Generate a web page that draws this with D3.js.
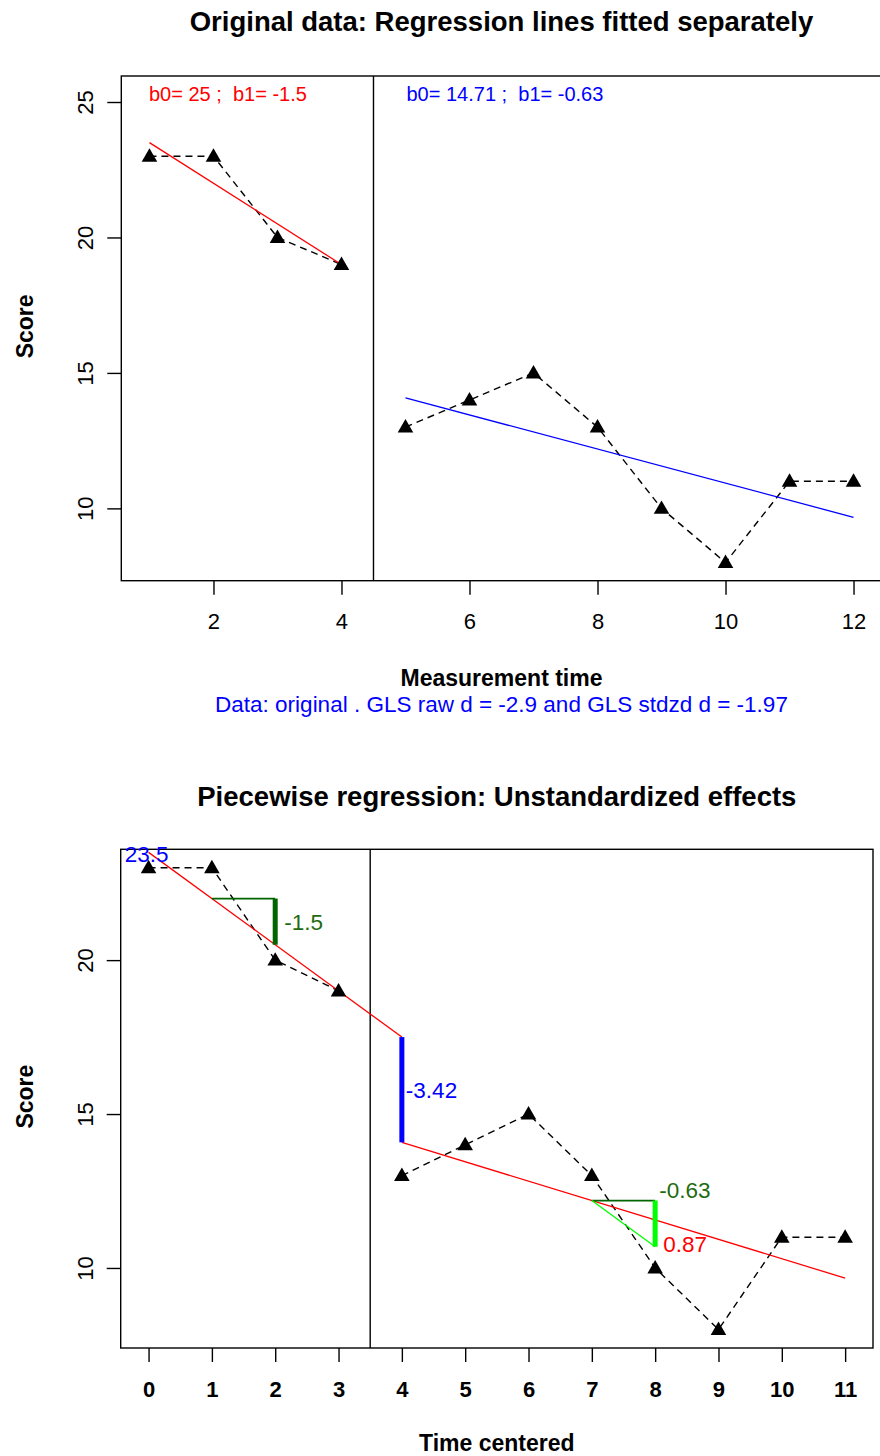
<!DOCTYPE html>
<html>
<head>
<meta charset="utf-8">
<script src="https://cdn.jsdelivr.net/npm/d3@7"></script>
<style>
  body { margin: 0; background: #fff; }
  svg { font-family: "Liberation Sans", Arial, sans-serif; }
  .axis text { fill: #000; }
</style>
</head>
<body>
<svg id="chart" width="880" height="1456"></svg>
<script>
// measurement times (original and centered) and observed scores
const timeOriginal = [1, 2, 3, 4, 5, 6, 7, 8, 9, 10, 11, 12];
const timeCentered = [0, 1, 2, 3, 4, 5, 6, 7, 8, 9, 10, 11];
const scores = [23, 23, 20, 19, 13, 14, 15, 13, 10, 8, 11, 11];
const phases = ['A', 'A', 'A', 'A', 'B', 'B', 'B', 'B', 'B', 'B', 'B', 'B'];

// separate fits (b0, b1) per phase, time counted within phase
const fitA = { b0: 25, b1: -1.5, offset: 0 };
const fitB = { b0: 14.71, b1: -0.63, offset: 4 };

// piecewise regression effects
const pwIntercept = 23.5;
const pwSlope = -1.5;
const pwLevel = -3.42;
const pwSlopeChange = 0.87;
const phaseChange = 4; // first centered time of phase B

const topXTicks = [2, 4, 6, 8, 10, 12];
const bottomXTicks = [0, 1, 2, 3, 4, 5, 6, 7, 8, 9, 10, 11];
const yTicks = [10, 15, 20, 25];

const svg = d3.select('#chart');
const tri = d3.symbol().type(d3.symbolTriangle).size(105);

function drawFrame(cfg) {
  const g = svg.append('g');
  // box
  g.append('rect')
    .attr('x', cfg.left).attr('y', cfg.top)
    .attr('width', cfg.right - cfg.left).attr('height', cfg.bottom - cfg.top)
    .attr('fill', 'none').attr('stroke', '#000').attr('stroke-width', 1.4);

  // only ticks inside the plotting range, as R does
  const yd = cfg.y.domain();
  const yt = yTicks.filter(v => v >= yd[0] && v <= yd[1]);

  const xAxis = d3.axisBottom(cfg.x).tickValues(cfg.xTicks).tickSize(14).tickPadding(19);
  const yAxis = d3.axisLeft(cfg.y).tickValues(yt).tickSize(14);

  const xg = g.append('g').attr('class', 'axis')
    .attr('transform', `translate(0,${cfg.bottom})`).call(xAxis);
  xg.select('.domain').remove();
  xg.selectAll('.tick line').attr('stroke', '#000').attr('stroke-width', 1.4);
  xg.selectAll('text').style('font-size', '22px')
    .style('font-weight', cfg.boldTicks ? 'bold' : 'normal');

  const yg = g.append('g').attr('class', 'axis')
    .attr('transform', `translate(${cfg.left},0)`).call(yAxis);
  yg.select('.domain').remove();
  yg.selectAll('.tick line').attr('stroke', '#000').attr('stroke-width', 1.4);
  yg.selectAll('text')
    .attr('transform', 'rotate(-90)')
    .attr('x', 0).attr('y', -28).attr('dy', null)
    .attr('text-anchor', 'middle')
    .style('font-size', '22px');

  // titles
  g.append('text')
    .attr('x', (cfg.left + cfg.right) / 2).attr('y', cfg.titleY)
    .attr('text-anchor', 'middle')
    .style('font-size', '27.5px').style('font-weight', 'bold')
    .text(cfg.title);
  g.append('text')
    .attr('x', (cfg.left + cfg.right) / 2).attr('y', cfg.xLabelY)
    .attr('text-anchor', 'middle')
    .style('font-size', '23px').style('font-weight', 'bold')
    .text(cfg.xLabel);
  g.append('text')
    .attr('transform', `translate(33,${(cfg.top + cfg.bottom) / 2 - 2}) rotate(-90)`)
    .attr('text-anchor', 'middle')
    .style('font-size', '23px').style('font-weight', 'bold')
    .text('Score');

  // phase separator
  g.append('line')
    .attr('x1', cfg.x(cfg.sep)).attr('x2', cfg.x(cfg.sep))
    .attr('y1', cfg.top).attr('y2', cfg.bottom)
    .attr('stroke', '#000').attr('stroke-width', 1.4);
  return g;
}

function drawSeries(g, x, y, times) {
  const pts = times.map((t, i) => ({ t: t, s: scores[i], p: phases[i] }));
  const line = d3.line().x(d => x(d.t)).y(d => y(d.s));
  ['A', 'B'].forEach(ph => {
    g.append('path')
      .datum(pts.filter(d => d.p === ph))
      .attr('d', line)
      .attr('fill', 'none').attr('stroke', '#000')
      .attr('stroke-width', 1.4).attr('stroke-dasharray', '7,5');
  });
  return pts;
}

function drawPoints(g, x, y, pts) {
  g.selectAll('.pt').data(pts).join('path')
    .attr('class', 'pt')
    .attr('d', tri)
    .attr('transform', d => `translate(${x(d.t)},${y(d.s) + 1})`)
    .attr('fill', '#000');
}

function label(g, x, y, txt, col, size, anchor) {
  return g.append('text')
    .attr('x', x).attr('y', y)
    .attr('text-anchor', anchor || 'start')
    .attr('fill', col).style('font-size', size + 'px')
    .style('white-space', 'pre')
    .text(txt);
}

// ---------- top chart ----------
const topBox = { left: 121.3, right: 881.7, top: 76, bottom: 580.7 };
const x1 = d3.scaleLinear().domain([0.56, 12.44]).range([topBox.left, topBox.right]);
const y1 = d3.scaleLinear().domain([7.33, 25.96]).range([topBox.bottom, topBox.top]);

const g1 = drawFrame(Object.assign({}, topBox, {
  x: x1, y: y1, xTicks: topXTicks, boldTicks: false, sep: 4.5,
  title: 'Original data: Regression lines fitted separately', titleY: 31,
  xLabelY: 686, xLabel: 'Measurement time'
}));
const pts1 = drawSeries(g1, x1, y1, timeOriginal);

[[fitA, 'A', 'red'], [fitB, 'B', 'blue']].forEach(([f, ph, col]) => {
  const ts = timeOriginal.filter((t, i) => phases[i] === ph);
  const ends = d3.extent(ts);
  g1.append('line')
    .attr('x1', x1(ends[0])).attr('y1', y1(f.b0 + f.b1 * (ends[0] - f.offset)))
    .attr('x2', x1(ends[1])).attr('y2', y1(f.b0 + f.b1 * (ends[1] - f.offset)))
    .attr('stroke', col).attr('stroke-width', 1.3);
});
drawPoints(g1, x1, y1, pts1);

label(g1, 149, 101, `b0= ${fitA.b0} ;  b1= ${fitA.b1}`, 'red', 20);
label(g1, 406.5, 101, `b0= ${fitB.b0} ;  b1= ${fitB.b1}`, 'blue', 20);
label(g1, (topBox.left + topBox.right) / 2, 712,
  'Data: original . GLS raw d = -2.9 and GLS stdzd d = -1.97', 'blue', 22.5, 'middle');

// ---------- bottom chart ----------
const botBox = { left: 120.7, right: 873, top: 849.3, bottom: 1348 };
const x2 = d3.scaleLinear().domain([-0.44, 11.44]).range([botBox.left, botBox.right]);
const y2 = d3.scaleLinear().domain([7.4, 23.6]).range([botBox.bottom, botBox.top]);

const g2 = drawFrame(Object.assign({}, botBox, {
  x: x2, y: y2, xTicks: bottomXTicks, boldTicks: true, sep: 3.5,
  title: 'Piecewise regression: Unstandardized effects', titleY: 806,
  xLabelY: 1451, xLabel: 'Time centered'
}));
const pts2 = drawSeries(g2, x2, y2, timeCentered);

const fitted = t => pwIntercept + pwSlope * t +
  (t >= phaseChange ? pwLevel + pwSlopeChange * (t - phaseChange) : 0);
const preEnd = pwIntercept + pwSlope * phaseChange;
const tEnd = d3.max(timeCentered);

// red piecewise line
g2.append('line')
  .attr('x1', x2(0)).attr('y1', y2(pwIntercept))
  .attr('x2', x2(phaseChange)).attr('y2', y2(preEnd))
  .attr('stroke', 'red').attr('stroke-width', 1.3);
g2.append('line')
  .attr('x1', x2(phaseChange)).attr('y1', y2(fitted(phaseChange)))
  .attr('x2', x2(tEnd)).attr('y2', y2(fitted(tEnd)))
  .attr('stroke', 'red').attr('stroke-width', 1.3);

// level change bar
g2.append('line')
  .attr('x1', x2(phaseChange)).attr('x2', x2(phaseChange))
  .attr('y1', y2(preEnd)).attr('y2', y2(fitted(phaseChange)))
  .attr('stroke', 'blue').attr('stroke-width', 5);
label(g2, x2(phaseChange) + 4, y2((preEnd + fitted(phaseChange)) / 2) + 8,
  String(pwLevel), 'blue', 22.5);

// phase A slope triangle
const a0 = fitted(1);
g2.append('line')
  .attr('x1', x2(1)).attr('x2', x2(2)).attr('y1', y2(a0)).attr('y2', y2(a0))
  .attr('stroke', '#006400').attr('stroke-width', 1.8);
g2.append('line')
  .attr('x1', x2(2)).attr('x2', x2(2)).attr('y1', y2(a0)).attr('y2', y2(a0 + pwSlope))
  .attr('stroke', '#006400').attr('stroke-width', 5);
label(g2, x2(2) + 9, y2(a0 + pwSlope / 2) + 8, String(pwSlope), '#1f6b10', 22.5);

// phase B slope triangle
const b0 = fitted(7);
const bSlope = pwSlope + pwSlopeChange;
g2.append('line')
  .attr('x1', x2(7)).attr('x2', x2(8)).attr('y1', y2(b0)).attr('y2', y2(b0))
  .attr('stroke', '#006400').attr('stroke-width', 1.8);
g2.append('line')
  .attr('x1', x2(7)).attr('x2', x2(8)).attr('y1', y2(b0)).attr('y2', y2(b0 + pwSlope))
  .attr('stroke', '#00ff00').attr('stroke-width', 1.3);
g2.append('line')
  .attr('x1', x2(8)).attr('x2', x2(8)).attr('y1', y2(b0)).attr('y2', y2(b0 + pwSlope))
  .attr('stroke', '#00ff00').attr('stroke-width', 5);
label(g2, x2(8) + 4, y2(b0 + 0.34) + 8, bSlope.toFixed(2), '#1f6b10', 22.5);
label(g2, x2(8) + 8, y2(b0 + pwSlope + 0.1) + 8, pwSlopeChange.toFixed(2), 'red', 22.5);

drawPoints(g2, x2, y2, pts2);

// intercept label
label(g2, x2(0) - 2, y2(pwIntercept) + 10, String(pwIntercept), 'blue', 22.5, 'middle');
</script>
</body>
</html>
